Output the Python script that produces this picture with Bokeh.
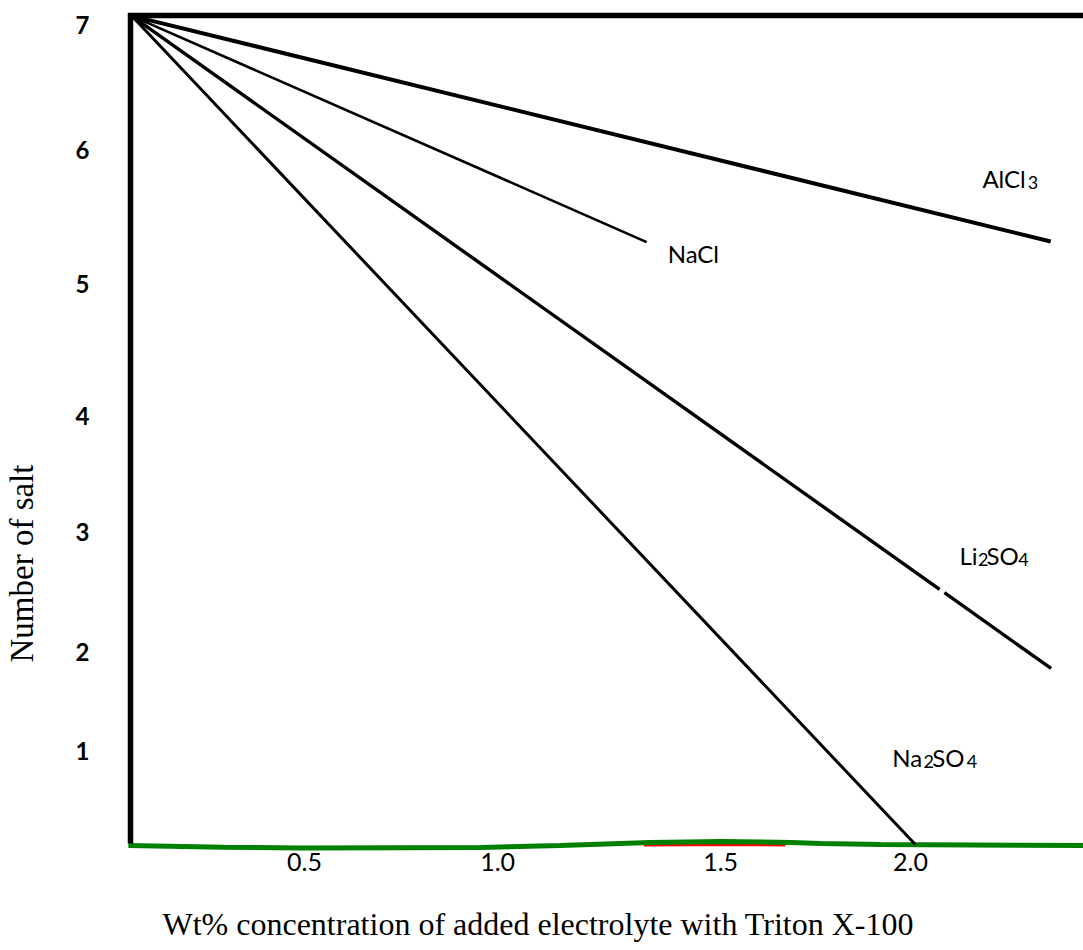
import math
from bokeh.plotting import figure
from bokeh.models import Range1d, FixedTicker, LinearAxis, Title
from bokeh.core.properties import value
from bokeh.embed import file_html
from bokeh.resources import INLINE

NAN = math.nan

# ---- data ----
alcl3_x = [0.072, 2.347]
alcl3_y = [7.08, 5.215]
nacl_x = [0.072, 1.347]
nacl_y = [7.08, 5.21]
li2so4_x = [0.072, 2.072, NAN, 2.084, 2.348]
li2so4_y = [7.08, 2.340, NAN, 2.312, 1.686]
na2so4_x = [0.072, 2.012]
na2so4_y = [7.08, 0.231]

# green base curve and the red trace under it
base_x = [0.064, 0.30, 0.49, 0.738, 0.936, 1.134, 1.282, 1.356, 1.53, 1.703, 1.777, 1.926, 2.428]
base_y = [0.223, 0.209, 0.202, 0.205, 0.207, 0.223, 0.240, 0.248, 0.256, 0.248, 0.240, 0.231, 0.223]
red_x = [1.34, 1.45, 1.53, 1.62, 1.69]
red_y = [0.226, 0.229, 0.230, 0.229, 0.226]

# frame (left and top thick lines)
frame_x = [0.0693, 0.0693, 2.4282]
frame_y = [0.24, 7.083, 7.083]

# axis ticks
x_tick_pos = [0.5, 0.978, 1.530, 2.0]
x_tick_labels = ["0.5", "1.0", "1.5", "2.0"]
y_tick_pos = [1.0, 1.818, 2.810, 3.769, 4.860, 5.967, 7.004]
y_tick_labels = ["1", "2", "3", "4", "5", "6", "7"]

# series labels (main part and subscript part)
main_lbl_text = ["AlCl", "NaCl", "Li", "SO", "Na", "SO"]
main_lbl_x = [2.178, 1.399, 2.121, 2.188, 1.955, 2.054]
main_lbl_y = [5.736, 5.118, 2.620, 2.620, 0.953, 0.953]
sub_lbl_text = ["3", "2", "4", "2", "4"]
sub_lbl_x = [2.290, 2.167, 2.267, 2.032, 2.139]
sub_lbl_y = [5.700, 2.585, 2.585, 0.920, 0.920]

x_title = "Wt% concentration of added electrolyte with Triton X-100"
y_title = "Number of salt"

p = figure(
    width=1083, height=950,
    x_range=Range1d(0.05446, 2.4282), y_range=Range1d(0.165, 7.124),
    output_backend="svg", toolbar_location=None,
    min_border_left=124, min_border_right=0, min_border_top=10, min_border_bottom=98,
)
p.outline_line_color = None
p.xgrid.visible = False
p.ygrid.visible = False
p.background_fill_color = "white"
p.border_fill_color = "white"

# lines
p.line(red_x, red_y, line_color="#ff0000", line_width=3)
p.line(base_x, base_y, line_color="#008000", line_width=5)
p.line(frame_x, frame_y, line_color="black", line_width=5.5, line_join="miter")
p.line(alcl3_x, alcl3_y, line_color="black", line_width=4)
p.line(nacl_x, nacl_y, line_color="black", line_width=2.6)
p.line(li2so4_x, li2so4_y, line_color="black", line_width=3.4)
p.line(na2so4_x, na2so4_y, line_color="black", line_width=3)

# labels
p.text(x=main_lbl_x, y=main_lbl_y, text=main_lbl_text,
       text_font=value("Lato"), text_font_size=value("24px"),
       text_align="left", text_baseline="alphabetic", text_color="black")
p.text(x=sub_lbl_x, y=sub_lbl_y, text=sub_lbl_text,
       text_font=value("Lato"), text_font_size=value("18px"),
       text_align="left", text_baseline="alphabetic", text_color="black")

# tick axes
xax = p.xaxis[0]
yax = p.yaxis[0]
xax.ticker = FixedTicker(ticks=x_tick_pos)
xax.major_label_overrides = dict(zip(x_tick_pos, x_tick_labels))
yax.ticker = FixedTicker(ticks=y_tick_pos)
yax.major_label_overrides = dict(zip(y_tick_pos, y_tick_labels))
for ax in (xax, yax):
    ax.axis_line_color = None
    ax.major_tick_line_color = None
    ax.minor_tick_line_color = None
    ax.major_label_text_font = "Lato"
    ax.major_label_text_color = "black"
yax.major_label_text_font_size = "24px"
xax.major_label_text_font_size = "25px"
yax.major_label_text_font_style = "bold"
yax.major_label_standoff = 29
xax.major_label_standoff = -6


# invisible spacer axes (push the axis titles outward)
def spacer_axis(size, tick):
    return LinearAxis(ticker=FixedTicker(ticks=[tick]),
                      major_label_overrides={tick: ""},
                      major_tick_out=size, major_tick_in=0,
                      minor_tick_out=0, minor_tick_in=0,
                      major_label_standoff=0,
                      axis_line_color=None, major_tick_line_color=None,
                      minor_tick_line_color=None)


p.add_layout(spacer_axis(30, 1.0), "below")
p.add_layout(spacer_axis(33, 4.0), "left")

p.add_layout(Title(text=x_title, align="left", offset=38, standoff=0,
                   vertical_align="bottom",
                   text_font="Liberation Serif", text_font_size="32px",
                   text_font_style="normal", text_color="black"), "below")
p.add_layout(Title(text=y_title, align="left", offset=190, standoff=0,
                   vertical_align="bottom",
                   text_font="Liberation Serif", text_font_size="33px",
                   text_font_style="normal", text_color="black"), "left")

open("out.html", "w").write(file_html(p, INLINE))
